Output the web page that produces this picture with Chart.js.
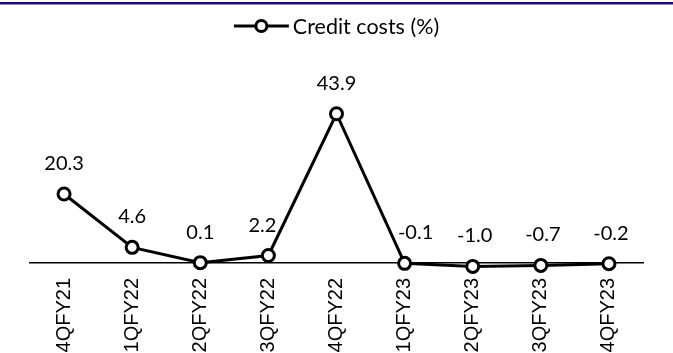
<!DOCTYPE html>
<html><head><meta charset="utf-8">
<script src="https://cdn.jsdelivr.net/npm/chart.js@4/dist/chart.umd.min.js"></script>
<style>html,body{margin:0;padding:0;background:#fff}#wrap{width:673px;height:353px;position:relative}</style>
</head><body><div id="wrap"><canvas id="c" width="673" height="353"></canvas></div>
<script>
const categories = ['4QFY21','1QFY22','2QFY22','3QFY22','4QFY22','1QFY23','2QFY23','3QFY23','4QFY23'];
const creditCosts = [20.3, 4.6, 0.1, 2.2, 43.9, -0.1, -1.0, -0.7, -0.2];
const valueLabels = ['20.3','4.6','0.1','2.2','43.9','-0.1','-1.0','-0.7','-0.2'];
const seriesName = 'Credit costs (%)';

const deco = {
  id: 'deco',
  beforeDraw(chart) {
    const ctx = chart.ctx;
    ctx.save();
    ctx.fillStyle = '#1E0A82';
    ctx.fillRect(0, 2, chart.width, 2.5);
    ctx.restore();
  },
  afterDatasetsDraw(chart, args, opts) {
    const ctx = chart.ctx;
    const meta = chart.getDatasetMeta(0);
    ctx.save();
    ctx.font = '20px Lato';
    ctx.fillStyle = '#000';
    ctx.textAlign = 'center';
    ctx.textBaseline = 'alphabetic';
    meta.data.forEach((pt, i) => {
      const dx = (opts.dx && opts.dx[i]) || 0;
      ctx.fillText(valueLabels[i], pt.x + dx, pt.y - 24);
    });
    ctx.restore();
  },
  afterDraw(chart) {
    const ctx = chart.ctx;
    ctx.save();
    ctx.font = '21.5px Lato';
    const label = chart.data.datasets[0].label;
    const w = ctx.measureText(label).width;
    const iconW = 55, gap = 4;
    const total = iconW + gap + w;
    const x0 = chart.width / 2 - total / 2;
    const cy = 26;
    ctx.strokeStyle = '#000';
    ctx.lineWidth = 3;
    ctx.beginPath(); ctx.moveTo(x0, cy); ctx.lineTo(x0 + iconW, cy); ctx.stroke();
    ctx.beginPath(); ctx.arc(x0 + iconW / 2, cy, 5.5, 0, Math.PI * 2);
    ctx.fillStyle = '#fff'; ctx.fill(); ctx.stroke();
    ctx.fillStyle = '#000';
    ctx.textAlign = 'left';
    ctx.textBaseline = 'middle';
    ctx.fillText(label, x0 + iconW + gap, cy + 1);
    ctx.restore();
  }
};

new Chart(document.getElementById('c'), {
  type: 'line',
  data: {
    labels: categories,
    datasets: [{
      label: seriesName,
      data: creditCosts,
      borderColor: '#000',
      borderWidth: 3,
      pointRadius: 6,
      pointBorderWidth: 3,
      pointBackgroundColor: '#fff',
      pointBorderColor: '#000',
      tension: 0,
      clip: false
    }]
  },
  options: {
    responsive: false,
    animation: false,
    layout: { padding: { top: 93, left: 30, right: 30, bottom: 0 } },
    plugins: {
      legend: { display: false },
      tooltip: { enabled: false },
      deco: { dx: [0, 0, 0, -6, 0, 11, 2, 2, 2] }
    },
    scales: {
      x: {
        type: 'category',
        offset: true,
        grid: { display: false, drawTicks: false },
        border: { display: true, color: '#000', width: 1.5 },
        ticks: {
          autoSkip: false,
          minRotation: 90,
          maxRotation: 90,
          padding: 15,
          color: '#000',
          font: { family: 'Liberation Sans', size: 20 }
        },
        afterFit(scale) { scale.height = 90; }
      },
      y: { display: false, min: 0, max: 50 }
    }
  },
  plugins: [deco]
});
</script></body></html>
